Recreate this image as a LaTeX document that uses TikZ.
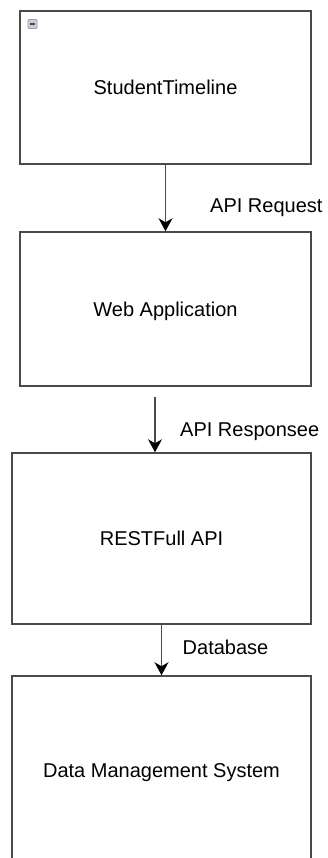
\documentclass[tikz,border=0pt]{standalone}
\usepackage{fontspec}
\setmainfont{Liberation Sans}
\usetikzlibrary{arrows.meta}
\definecolor{edge}{HTML}{4A4A4A}
\definecolor{iconfill}{HTML}{C9CDD6}
\definecolor{iconedge}{HTML}{9A9EA6}
\begin{document}
\begin{tikzpicture}[x=1pt,y=-1pt,
  block/.style={draw=edge,line width=1.5pt,fill=white,inner sep=0pt,
    font=\fontsize{20}{24}\selectfont,text height=14.3pt,text depth=0pt},
  flow/.style={draw=edge,line width=1.2pt,
    -{Stealth[length=13pt,width=14pt,inset=4pt,color=black]}},
  tag/.style={font=\fontsize{20}{24}\selectfont,anchor=base west,inner sep=0pt}]
\useasboundingbox (0,0) rectangle (327,858);
\clip (0,0) rectangle (327,858);

% components of the stack
\node[block,minimum width=291pt,minimum height=153pt] (ui)  at (165.5,87.5) {StudentTimeline};
\node[block,minimum width=291pt,minimum height=154pt] (web) at (165.5,309) {Web Application};
\node[block,minimum width=299pt,minimum height=171pt] (api) at (161.5,538.5) {RESTFull API};
\node[block,minimum width=299pt,minimum height=188pt] (dms) at (161.5,770) {Data Management System};

% collapse button in the corner of the first box
\node[draw=iconedge,fill=iconfill,line width=0.8pt,rounded corners=1pt,
  minimum width=9pt,minimum height=9pt,inner sep=0pt] (fold) at (32.5,24) {};
\draw[edge,line width=1.6pt] ([xshift=-2.5pt]fold.center) -- ([xshift=2.5pt]fold.center);

% request / response flow
\draw[flow] (ui.south) -- (web.north);
\node[tag] (lreq) at (210,213) {API Request};

\coordinate (respstart) at (155,397);
\draw[flow] (respstart) -- (respstart |- api.north);
\node[tag] (lresp) at (180,436) {API Responsee};

\draw[flow] (api.south) -- (dms.north);
\node[tag] (ldb) at (182.5,654) {Database};
\end{tikzpicture}
\end{document}
